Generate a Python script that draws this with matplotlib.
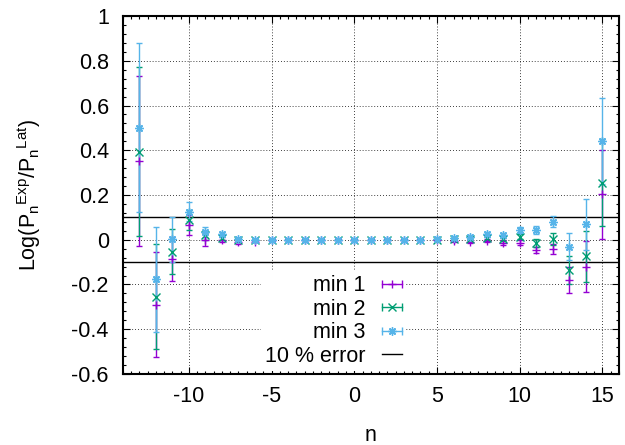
import matplotlib
matplotlib.use('Agg')
import matplotlib.pyplot as plt
from matplotlib.lines import Line2D
from matplotlib.legend_handler import HandlerLine2D, HandlerTuple
import numpy as np

plt.rcParams['font.family'] = ['Liberation Sans', 'DejaVu Sans']
plt.rcParams['mathtext.default'] = 'regular'
plt.rcParams['axes.unicode_minus'] = False
plt.rcParams['font.size'] = 15.5

n = list(range(-13, 16))

# min 1
min1_val = [0.35, -0.29, -0.085, 0.066, -0.003, 0.0, -0.012, -0.008, -0.002, 0.0,
            0.0, 0.0, 0.0, 0.0, 0.0, 0.0, 0.0, 0.0, -0.002, -0.005,
            -0.008, -0.004, -0.014, -0.013, -0.046, -0.043, -0.18, -0.12, 0.203]
min1_err = [0.38, 0.236, 0.098, 0.045, 0.027, 0.012, 0.006, 0.004, 0.003, 0.003,
            0.002, 0.002, 0.002, 0.002, 0.002, 0.002, 0.002, 0.003, 0.003, 0.004,
            0.005, 0.007, 0.011, 0.011, 0.015, 0.022, 0.06, 0.115, 0.198]

# min 2
min2_val = [0.394, -0.254, -0.053, 0.088, 0.021, 0.008, 0.0, 0.0, 0.0, 0.0,
            0.0, 0.0, 0.0, 0.0, 0.0, 0.0, 0.0, 0.0, 0.0, 0.002,
            0.004, 0.006, 0.002, 0.014, -0.013, 0.002, -0.135, -0.073, 0.255]
min2_err = [0.378, 0.236, 0.1, 0.045, 0.02, 0.01, 0.005, 0.003, 0.003, 0.003,
            0.002, 0.002, 0.002, 0.002, 0.002, 0.002, 0.002, 0.003, 0.003, 0.003,
            0.004, 0.006, 0.008, 0.012, 0.018, 0.027, 0.062, 0.114, 0.195]

# min 3
min3_val = [0.50, -0.177, 0.002, 0.125, 0.036, 0.024, 0.002, 0.0, 0.0, 0.0,
            0.0, 0.0, 0.0, 0.0, 0.0, 0.0, 0.0, 0.0, 0.002, 0.006,
            0.014, 0.026, 0.021, 0.044, 0.044, 0.081, -0.031, 0.069, 0.441]
min3_err = [0.378, 0.235, 0.1, 0.043, 0.022, 0.01, 0.005, 0.003, 0.003, 0.003,
            0.002, 0.002, 0.002, 0.002, 0.002, 0.002, 0.002, 0.003, 0.003, 0.004,
            0.005, 0.008, 0.01, 0.014, 0.017, 0.025, 0.06, 0.113, 0.194]

error_level = 0.1

series = [
    ('min 1', min1_val, min1_err, '#9400D3', '+'),
    ('min 2', min2_val, min2_err, '#009E73', 'x'),
    ('min 3', min3_val, min3_err, '#56B4E9', (8, 2, 0)),
]

fig = plt.figure(figsize=(6.25, 4.45), dpi=100)
ax = fig.add_axes([0.1963, 0.1596, 0.7941, 0.8044])

handles = []
handler_map = {}
for label, val, err, color, marker in series:
    ax.errorbar(n, val, yerr=err, fmt='none', ecolor=color, elinewidth=1.0,
                capsize=2.2, capthick=1.0, zorder=3)
    ax.plot(n, val, linestyle='none', marker=marker, color=color,
            markersize=6, markeredgewidth=1.0, zorder=4)
    # horizontal error bar sample for the key, like gnuplot draws it
    bar = Line2D([], [], color=color, lw=1.0, marker='|', markersize=6,
                 markeredgewidth=1.0)
    point = Line2D([], [], color=color, linestyle='none', marker=marker,
                   markersize=6, markeredgewidth=1.0)
    handler_map[bar] = HandlerLine2D(numpoints=2, marker_pad=0)
    handles.append(((bar, point), label))

ax.axhline(error_level, color='black', lw=1.0, zorder=2)
ax.axhline(-error_level, color='black', lw=1.0, zorder=2)
err_handle = Line2D([], [], color='black', lw=1.0)
handles.append((err_handle, '10 % error'))

ax.set_xlim(-14, 16)
ax.set_ylim(-0.6, 1.0)
ax.set_xticks([-10, -5, 0, 5, 10, 15])
ax.set_yticks(np.round(np.arange(-0.6, 1.01, 0.2), 1))
ax.set_yticklabels(['-0.6', '-0.4', '-0.2', '0', '0.2', '0.4', '0.6', '0.8', '1'])
ax.set_xticks(np.arange(-14, 16.01, 0.5), minor=True)
ax.set_yticks(np.arange(-0.6, 1.001, 0.04), minor=True)

ax.grid(True, which='major', color='black', linestyle=(0, (1, 2.5)), lw=0.6)
ax.tick_params(which='both', direction='in', top=True, right=True, width=0.8)
ax.tick_params(which='major', length=5)
ax.tick_params(which='minor', length=2.5)
ax.tick_params(axis='x', pad=9)
ax.tick_params(axis='y', pad=10)
for spine in ax.spines.values():
    spine.set_linewidth(1.5)

ax.set_xlabel('n')
ax.xaxis.set_label_coords(0.5, -0.142)
ax.set_ylabel('Log(P$_{n}$$^{Exp}$/P$_{n}$$^{Lat}$)')
ax.yaxis.set_label_coords(-0.16, 0.5)

leg_handles = [h for h, _ in handles]
leg_labels = [l for _, l in handles]
handler_map[tuple] = HandlerTuple(ndivide=1, pad=0)
leg = ax.legend(leg_handles, leg_labels, handler_map=handler_map,
                loc='upper right', bbox_to_anchor=(0.571, 0.288),
                markerfirst=False, frameon=True, fancybox=False,
                framealpha=1, edgecolor='none', facecolor='white',
                borderaxespad=0, borderpad=0.2, labelspacing=0.12,
                handlelength=0.93, handletextpad=0.75)
leg.set_zorder(5)

fig.savefig('out.png', dpi=100)
